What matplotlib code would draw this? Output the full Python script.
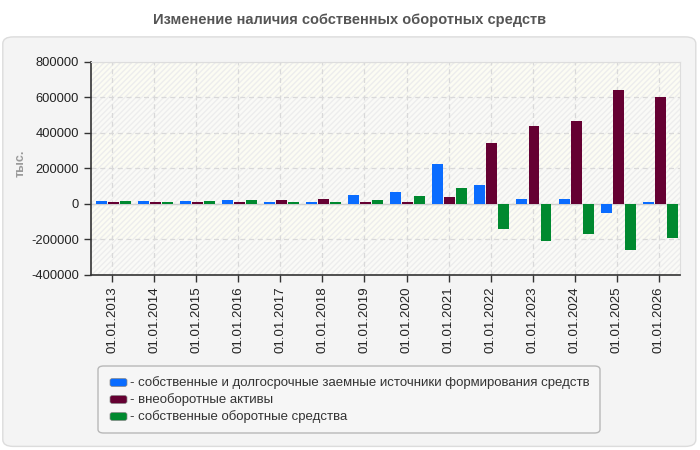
import numpy as np
import matplotlib
matplotlib.use("Agg")
import matplotlib.pyplot as plt
from matplotlib.patches import FancyBboxPatch

plt.rcParams["font.family"] = ["Liberation Sans", "DejaVu Sans"]

# ---- data (thousands) ---- #
dates = ["01.01.2013", "01.01.2014", "01.01.2015", "01.01.2016", "01.01.2017",
         "01.01.2018", "01.01.2019", "01.01.2020", "01.01.2021", "01.01.2022",
         "01.01.2023", "01.01.2024", "01.01.2025", "01.01.2026"]
sources = [15000, 15000, 15000, 21000, 9000, 9000, 53000, 69000, 227000,
           109000, 30000, 30000, -49000, 13000]
noncurrent = [13000, 9000, 9000, 13000, 21000, 26000, 13000, 13000, 41000,
              345000, 440000, 468000, 643000, 603000]
working = [15000, 9000, 15000, 21000, 9000, 9000, 25000, 47000, 92000,
           -139000, -206000, -172000, -262000, -189000]
series_labels = ["- собственные и долгосрочные заемные источники формирования средств",
                 "- внеоборотные активы",
                 "- собственные оборотные средства"]
colors = ["#0a6cff", "#650032", "#00892f"]
yticks = [-400000, -200000, 0, 200000, 400000, 600000, 800000]

fig = plt.figure(figsize=(7, 4.5), dpi=100)
fig.patch.set_facecolor("white")

# outer rounded panel (behind the axes)
panel = FancyBboxPatch((0.004, 0.008), 0.99, 0.91,
                       boxstyle="round,pad=0,rounding_size=0.015",
                       transform=fig.transFigure, facecolor="#f4f4f4",
                       edgecolor="#dcdcdc", lw=1, zorder=-5)
fig.patches.append(panel)

fig.text(0.5, 0.955, "Изменение наличия собственных оборотных средств",
         ha="center", va="center", fontsize=10.5, fontweight="bold",
         color="#555555")

ax = fig.add_axes([0.13, 0.389, 0.8414, 0.4733])
ax.set_facecolor("#fcfcf5")
x = np.arange(len(dates))
ax.set_xlim(-0.5, len(dates) - 0.5)
ax.set_ylim(-400000, 800000)

# banded, faintly hatched background
for i, (lo, hi) in enumerate(zip(yticks[:-1], yticks[1:])):
    fc = "#fcfcf3" if i % 2 else "#fafaf7"
    ax.axhspan(lo, hi, facecolor=fc, edgecolor="#ededed", hatch="//////",
               lw=0, zorder=0)

ax.grid(True, color="#d9d9d9", ls=(0, (4, 3)), lw=0.9)
ax.set_axisbelow(True)
ax.axhline(0, color="#d0d0d0", lw=1, zorder=1)

w = 0.26
step = 0.286
for k, (vals, c) in enumerate(zip([sources, noncurrent, working], colors)):
    ax.bar(x + (k - 1) * step + 0.03, vals, w, color=c, zorder=3)

ax.set_xticks(x)
ax.set_xticklabels(dates, rotation=90, fontsize=9.5, color="#222222")
ax.set_yticks(yticks)
ax.set_yticklabels([str(v) for v in yticks], fontsize=9.3, color="#222222")
ax.tick_params(axis="both", direction="out", length=5, color="#333333",
               width=1)
ax.tick_params(axis="x", pad=3)
for s in ["left", "bottom"]:
    ax.spines[s].set_color("#333333")
    ax.spines[s].set_linewidth(1.2)
for s in ["top", "right"]:
    ax.spines[s].set_color("#dddddd")

fig.text(0.03, 0.638, "тыс.", rotation=90, ha="center", va="center",
         fontsize=9, fontweight="bold", color="#9a9a9a")

# legend box
leg = FancyBboxPatch((98 / 700, 1 - 433 / 450), 502 / 700, 67 / 450,
                     boxstyle="round,pad=0,rounding_size=0.008",
                     transform=fig.transFigure, facecolor="#f6f6f6",
                     edgecolor="#b8b8b8", lw=1, zorder=1)
fig.patches.append(leg)
for i, (lab, c) in enumerate(zip(series_labels, colors)):
    yy = 382.5 + i * 17
    sw = FancyBboxPatch((110 / 700, 1 - (yy + 4) / 450), 17 / 700, 8 / 450,
                        boxstyle="round,pad=0,rounding_size=0.004",
                        transform=fig.transFigure, facecolor=c,
                        edgecolor="#888888", lw=0.5, zorder=2)
    fig.patches.append(sw)
    fig.text(130 / 700, 1 - yy / 450, lab, ha="left", va="center",
             fontsize=9.5, color="#333333")

fig.savefig("out.png", dpi=100)
